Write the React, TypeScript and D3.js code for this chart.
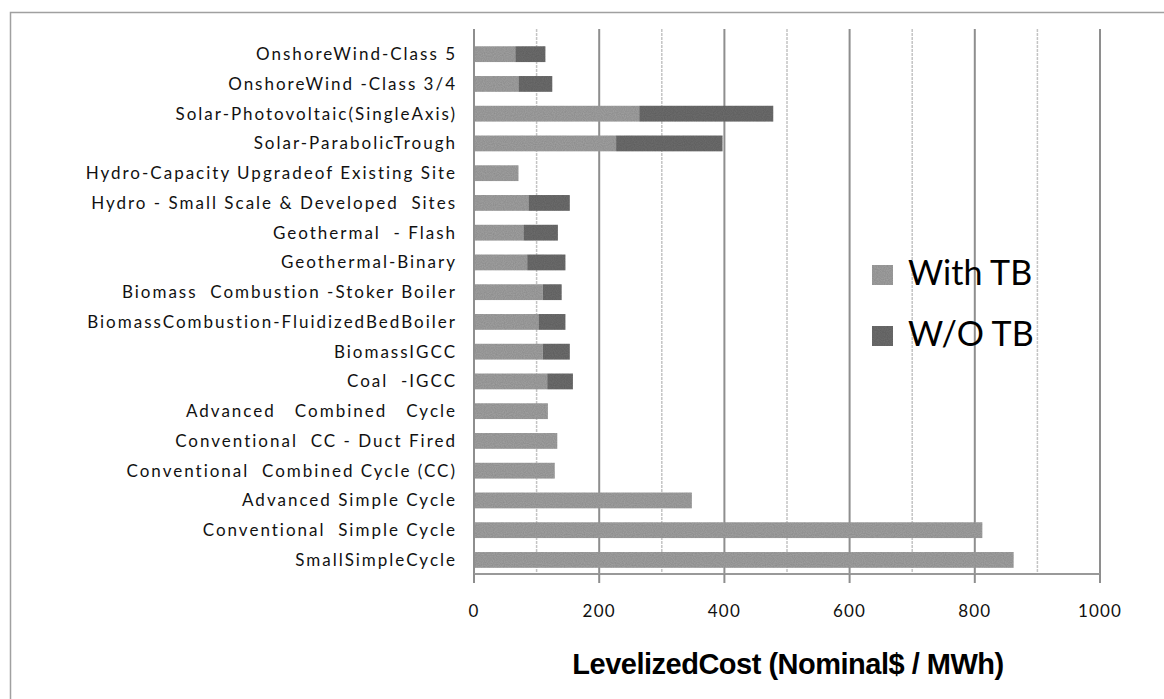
import React from "react";
import * as d3 from "d3";

const categories = [
  "OnshoreWind-Class 5",
  "OnshoreWind -Class 3/4",
  "Solar-Photovoltaic(SingleAxis)",
  "Solar-ParabolicTrough",
  "Hydro-Capacity Upgradeof Existing Site",
  "Hydro - Small Scale & Developed  Sites",
  "Geothermal  - Flash",
  "Geothermal-Binary",
  "Biomass  Combustion -Stoker Boiler",
  "BiomassCombustion-FluidizedBedBoiler",
  "BiomassIGCC",
  "Coal  -IGCC",
  "Advanced   Combined   Cycle",
  "Conventional  CC - Duct Fired",
  "Conventional  Combined Cycle (CC)",
  "Advanced Simple Cycle",
  "Conventional  Simple Cycle",
  "SmallSimpleCycle",
];

// Levelized cost with tax benefit
const withTB = [66, 71, 264, 227, 71, 87, 79, 85, 110, 103, 110, 117, 118, 133, 129, 348, 812, 862];
// Levelized cost without tax benefit (null = no separate value shown)
const woTB: (number | null)[] = [114, 125, 478, 397, null, 153, 134, 146, 140, 146, 153, 158, null, null, null, null, null, null];

const xTicks = [0, 200, 400, 600, 800, 1000];
const xMinorGrid = [100, 300, 500, 700, 900];
const seriesNames = ["With TB", "W/O TB"];
const axisTitle = "LevelizedCost (Nominal$ / MWh)";

const W = 1164;
const H = 699;
const LIGHT = "#a4a4a4";
const DARK = "#6f6f6f";

export default function App() {
  const x = d3.scaleLinear().domain([0, 1000]).range([474, 1100]);
  const y = d3.scaleBand<string>().domain(categories).range([39.3, 574.8]).paddingInner(0.47).paddingOuter(0.235);
  const labelFont = "Lato, 'Open Sans', sans-serif";

  return (
    <svg
      width={W}
      height={H}
      style={{ position: "absolute", left: 0, top: 0, background: "#fff" }}
    >
      <defs>
        <filter id="grain" x="0" y="0" width="100%" height="100%">
          <feTurbulence type="fractalNoise" baseFrequency="0.9" numOctaves="1" seed="3" result="n" />
          <feColorMatrix in="n" type="matrix"
            values="0 0 0 0 0  0 0 0 0 0  0 0 0 0 0  0 0 0 0.35 0" result="dots" />
          <feComposite in="dots" in2="SourceGraphic" operator="in" result="d2" />
          <feMerge>
            <feMergeNode in="SourceGraphic" />
            <feMergeNode in="d2" />
          </feMerge>
        </filter>
      </defs>
      {/* outer frame */}
      <rect x={10.5} y={12.5} width={1170} height={700} fill="none" stroke="#a0a0a0" strokeWidth={1.5} />

      {/* minor gridlines */}
      {xMinorGrid.map((v) => (
        <line key={"m" + v} x1={x(v)} x2={x(v)} y1={29} y2={574} stroke="#c4c4c4" strokeWidth={1.5} strokeDasharray="3 1" />
      ))}
      {/* major gridlines */}
      {xTicks.slice(1).map((v) => (
        <line key={"M" + v} x1={x(v)} x2={x(v)} y1={29} y2={574} stroke="#8e8e8e" strokeWidth={2} />
      ))}

      {/* bars */}
      <g filter="url(#grain)">
        {categories.map((c, i) => (
          <g key={c}>
            <rect x={x(0)} y={y(c)} width={x(withTB[i]) - x(0)} height={y.bandwidth()} fill={LIGHT} />
            {woTB[i] != null && (
              <rect x={x(withTB[i])} y={y(c)} width={x(woTB[i] as number) - x(withTB[i])} height={y.bandwidth()} fill={DARK} />
            )}
          </g>
        ))}
      </g>

      {/* axes */}
      <line x1={x(0)} x2={x(0)} y1={29} y2={574} stroke="#8e8e8e" strokeWidth={2} />
      <line x1={x(0)} x2={x(1000)} y1={574} y2={574} stroke="#999" strokeWidth={2} />
      {xTicks.map((v) => (
        <line key={"t" + v} x1={x(v)} x2={x(v)} y1={574} y2={583} stroke="#8e8e8e" strokeWidth={2} />
      ))}
      {xTicks.map((v) => (
        <text key={"l" + v} x={x(v)} y={617} textAnchor="middle" fontFamily={labelFont} fontSize={17} letterSpacing={1.2} fill="#111">
          {v}
        </text>
      ))}

      {/* category labels */}
      {categories.map((c) => (
        <text
          key={"c" + c}
          x={457}
          y={(y(c) as number) + y.bandwidth() / 2 + 6}
          textAnchor="end"
          fontFamily={labelFont}
          fontSize={17}
          letterSpacing={2}
          fill="#111"
          style={{ whiteSpace: "pre" }}
        >
          {c}
        </text>
      ))}

      {/* axis title */}
      <text x={788} y={674} textAnchor="middle" fontFamily="'Liberation Sans Narrow', 'Liberation Sans', Arial, sans-serif" fontWeight="bold" fontSize={29} letterSpacing={-0.5} fill="#000" style={{ whiteSpace: "pre" }}>
        {axisTitle}
      </text>

      {/* legend */}
      {seriesNames.map((s, i) => (
        <g key={s} transform={`translate(872, ${265 + i * 61})`}>
          <rect x={0} y={0} width={21} height={20} fill={i === 0 ? LIGHT : DARK} filter="url(#grain)" />
          <text x={36} y={20} fontFamily={labelFont} fontSize={34} fill="#000">
            {s}
          </text>
        </g>
      ))}
    </svg>
  );
}
